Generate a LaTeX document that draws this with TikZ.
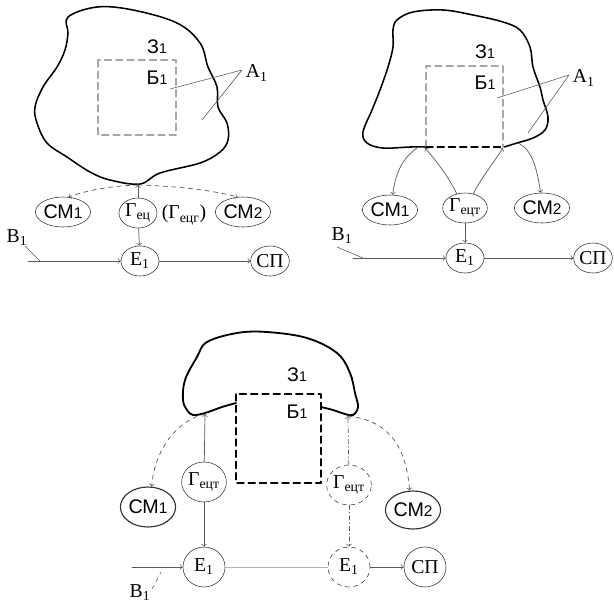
\documentclass[tikz,border=0pt]{standalone}
\usepackage{fontspec}
\setmainfont{Liberation Serif}
\newfontfamily\arialfont{Liberation Sans}
\usetikzlibrary{shapes.geometric}
\newcommand{\CMlab}[1]{{\arialfont СМ{\fontsize{11}{13}\selectfont #1}}}
\newcommand{\ZBlab}[1]{{\arialfont #1{\fontsize{10}{12}\selectfont 1}}}
\newcommand{\Glab}[1]{Г\textsubscript{#1}}
\begin{document}
\begin{tikzpicture}[x=0.025cm, y=-0.025cm, >=to, line join=round, line cap=round,
  font=\fontsize{14}{16}\selectfont,
  elem/.style={ellipse, draw=black!80, inner sep=0pt, minimum width=0.95cm, minimum height=0.75cm},
  elembig/.style={elem, minimum width=1.05cm, minimum height=1cm},
  link/.style={->, gray!70!black, line width=0.5pt},
  dlink/.style={link, dashed},
  boxline/.style={dash pattern=on 5pt off 3pt, thick},
  blob/.style={line width=1.1pt, black}]
	\useasboundingbox (0,0) rectangle (614,608);
	
	% 1. Первая схема (слева вверху)
	\draw[blob] plot[smooth cycle, tension=0.6] coordinates {(68,17) (97,7) (133,10) (177,23) (200,43) (208,67) (217,87) (218,107) (227,123) (228,140) (220,152) (200,163) (160,173) (140,184) (110,180) (90,172) (67,157) (47,143) (37,123) (35,107) (43,87) (57,67) (65,50) (68,33)};
	\draw[gray!70, boxline] (98,60) rectangle (176,135);
	\node at (157,47) {\ZBlab{З}};
	\node at (157,78) {\ZBlab{Б}};
	\coordinate (aA) at (242,70);
	\node[anchor=west] (labA) at (241,73) {А\textsubscript{1}};
	\draw[gray!70!black] (aA) -- (170,89) (aA) -- (202,120);
	
	\coordinate (pA) at (138,185);
	\node[elem] (sm1A) at (63,212) {\CMlab{1}};
	\node[elem] (gA) at (138,213) {\Glab{ец}};
	\node (gtA) at (184,215) {(\Glab{ецг})};
	\node[elem] (sm2A) at (243,212) {\CMlab{2}};
	\node[elem] (e1A) at (140,261) {Е\textsubscript{1}};
	\node[elem] (spA) at (270,261) {СП};
	\draw[link] (gA) -- (pA);
	\draw[dlink] (pA) .. controls (110,186) and (88,190) .. (sm1A.70);
	\draw[dlink] (pA) .. controls (175,186) and (212,190) .. (sm2A.110);
	\draw[link] (gA) -- (e1A);
	\coordinate (bA) at (28,261);
	\coordinate (tA) at (25,246);
	\node (labBA) at (17,238) {В\textsubscript{1}};
	\draw[gray!70!black] (tA) -- (40,261);
	\draw[link] (bA) -- (e1A);
	\draw[link] (e1A) -- (spA);
	
	% 2. Вторая схема (справа вверху)
	\draw[blob] plot[smooth, tension=0.6] coordinates {(504,147) (517,143) (533,138) (545,130) (548,117) (543,100) (540,87) (533,67) (530,47) (520,30) (503,22) (473,15) (443,10) (413,12) (397,20) (393,30) (393,47) (388,67) (380,90) (372,110) (363,132) (367,143) (383,148) (410,147) (427,147)};
	\draw[gray!70, boxline] (426,147) -- (426,66) -- (503,66) -- (503,147);
	\draw[black, boxline] (426,147) -- (503,147);
	\node at (485,52) {\ZBlab{З}};
	\node at (485,83) {\ZBlab{Б}};
	\coordinate (aB) at (569,75);
	\node[anchor=west] (labB) at (568,78) {А\textsubscript{1}};
	\draw[gray!70!black] (aB) -- (497,98) (aB) -- (528,133);
	
	\coordinate (pB1) at (417,148);
	\coordinate (pB2) at (425,148);
	\coordinate (pB3) at (503,148);
	\coordinate (pB4) at (518,143);
	\node[elem] (sm1B) at (390,210) {\CMlab{1}};
	\node[elem] (gB) at (465,208) {\Glab{ецт}};
	\node[elem] (sm2B) at (542,208) {\CMlab{2}};
	\node[elem] (e1B) at (465,258) {Е\textsubscript{1}};
	\node[elem] (spB) at (593,258) {СП};
	\draw[link] (pB1) .. controls (402,158) and (395,175) .. (sm1B.80);
	\draw[link] (gB.120) .. controls (450,180) and (440,165) .. (pB2);
	\draw[link] (gB.60) .. controls (480,180) and (492,165) .. (pB3);
	\draw[link] (pB4) .. controls (533,150) and (537,170) .. (sm2B.95);
	\draw[link] (gB) -- (e1B);
	\coordinate (bB) at (353,258);
	\coordinate (tB) at (337,247);
	\node (labBB) at (342,236) {В\textsubscript{1}};
	\draw[gray!70!black] (tB) -- (363,258);
	\draw[link] (bB) -- (e1B);
	\draw[link] (e1B) -- (spB);
	
	% 3. Третья схема (внизу)
	\draw[blob, line width=1.3pt] plot[smooth, tension=0.6] coordinates {(321,407) (333,410) (345,414) (353,415) (358,407) (355,393) (350,373) (337,353) (307,338) (267,332) (237,333) (207,342) (197,357) (185,380) (183,400) (187,410) (193,415) (205,413) (222,407) (236,403)};
	\draw[black, boxline] (236,394) rectangle (321,483);
	\node at (297,375) {\ZBlab{З}};
	\node at (297,412) {\ZBlab{Б}};
	
	\coordinate (pL) at (205,414);
	\coordinate (pR) at (348,416);
	\node[elembig] (gL) at (204,482) {\Glab{ецт}};
	\node[elembig, dashed] (gR) at (349,485) {\Glab{ецт}};
	\node[elembig, line width=0.8pt] (sm1C) at (148,507) {\CMlab{1}};
	\node[elembig, line width=0.8pt, minimum height=0.95cm] (sm2C) at (413,510) {\CMlab{2}};
	\node[elembig] (e1L) at (204,567) {Е\textsubscript{1}};
	\node[elembig, dashed] (e1R) at (349,567) {Е\textsubscript{1}};
	\node[elembig] (spC) at (425,567) {СП};
	\draw[link] (gL) -- (pL);
	\draw[dlink] (pL) .. controls (178,420) and (155,448) .. (sm1C.80);
	\draw[link, dash dot] (gR) -- (pR);
	\draw[dlink] (pR) .. controls (385,420) and (406,442) .. (sm2C.100);
	\draw[link] (gL) -- (e1L);
	\draw[link, dash dot] (gR) -- (e1R);
	\coordinate (bC) at (132,567);
	\coordinate (tC) at (152,589);
	\node (labBC) at (140,593) {В\textsubscript{1}};
	\draw[gray!70!black, dashed] (tC) -- (161,572);
	\draw[link] (bC) -- (e1L);
	\draw[gray!60] (e1L) -- (e1R);
	\draw[link] (e1R) -- (spC);
\end{tikzpicture}
\end{document}
